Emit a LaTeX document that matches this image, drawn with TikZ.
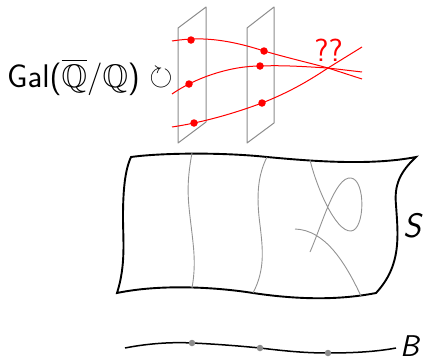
\documentclass[tikz,border=0pt]{standalone}
\usepackage{amssymb}
\tikzset{
  surf/.style={black,line width=1.9pt,line join=miter},
  basel/.style={black,line width=1.5pt},
  fibre/.style={gray!85,line width=0.9pt},
  plane/.style={gray!90,line width=1pt,line join=round},
  rcurve/.style={red,line width=1pt},
  rdot/.style={circle,fill=red,inner sep=0pt,minimum size=7.5pt},
  gdot/.style={circle,fill=gray!90,inner sep=0pt,minimum size=6.5pt},
  lab/.style={inner sep=0pt,font=\sffamily}
}
\begin{document}
\begin{tikzpicture}[x=1pt,y=-1pt]
\useasboundingbox (0,0) rectangle (423,359);
% planes
\draw[plane] (178,28) -- (206,7) -- (206,122) -- (178,143) -- cycle;
\draw[plane] (247,28) -- (274,7) -- (274,123) -- (247,143) -- cycle;
% red curves
\draw[rcurve] (172,41) .. controls (192,38) and (218,36) .. (264,51) .. controls (288,58) and (310,63) .. (328,68) -- (362,79);
\draw[rcurve] (172,94) .. controls (195,78) and (230,66) .. (260,66) .. controls (285,65) and (310,67) .. (328,68) -- (362,72);
\draw[rcurve] (172,127) .. controls (205,122) and (235,113) .. (262,103) .. controls (290,92) and (310,80) .. (328,68) -- (362,47);
\node[rdot] (p1) at (191,40) {};
\node[rdot] (p2) at (189,84) {};
\node[rdot] (p3) at (194,123) {};
\node[rdot] (q1) at (264,51) {};
\node[rdot] (q2) at (260,66) {};
\node[rdot] (q3) at (262,103) {};
\node[lab,text=red,anchor=center] (qq) at (328.5,50) {\fontsize{32}{32}\selectfont ??};
\node[lab,anchor=west] (gal) at (7,77) {\fontsize{32.7}{34}\selectfont Gal($\overline{\mathbb{Q}}$/$\mathbb{Q}$)};
\node[inner sep=0pt] (rot) at (161,78) {\fontsize{30}{30}\selectfont $\circlearrowright$};
% surface
\draw[surf] (131,157) .. controls (160,153) and (220,152) .. (267,157) .. controls (310,161) and (370,166) .. (416,157)
  .. controls (400,172) and (394,185) .. (396,205) .. controls (398,235) and (402,265) .. (376,293)
  .. controls (340,300) and (300,300) .. (253,293) .. controls (215,287) and (160,284) .. (117,293)
  .. controls (126,265) and (123,240) .. (123,217) .. controls (123,190) and (125,170) .. (131,157) -- cycle;
% fibres
\draw[fibre] (192,153) .. controls (186,185) and (188,200) .. (191,225) .. controls (194,250) and (196,265) .. (192,288);
\draw[fibre] (267,157) .. controls (258,175) and (256,195) .. (260,225) .. controls (263,250) and (265,270) .. (253,293);
\draw[fibre] (310,160) .. controls (316,185) and (335,232) .. (351,231) .. controls (365,230) and (366,180) .. (351,178) .. controls (335,176) and (322,225) .. (310,252);
\draw[fibre] (295,229) .. controls (325,230) and (345,262) .. (361,296);
% base
\draw[basel] (125,348) .. controls (150,343) and (175,342) .. (192,343) .. controls (215,344) and (240,346) .. (260,348) .. controls (285,351) and (305,353) .. (328,353) .. controls (350,353) and (375,352) .. (396,348);
\node[gdot] (b1) at (192,343) {};
\node[gdot] (b2) at (260,348) {};
\node[gdot] (b3) at (328,353) {};
\node[lab,font=\sffamily\itshape] (S) at (412,226) {\fontsize{34}{34}\selectfont S};
\node[lab,font=\sffamily\itshape,anchor=east] (B) at (419,346) {\fontsize{30}{30}\selectfont B};
\end{tikzpicture}
\end{document}
